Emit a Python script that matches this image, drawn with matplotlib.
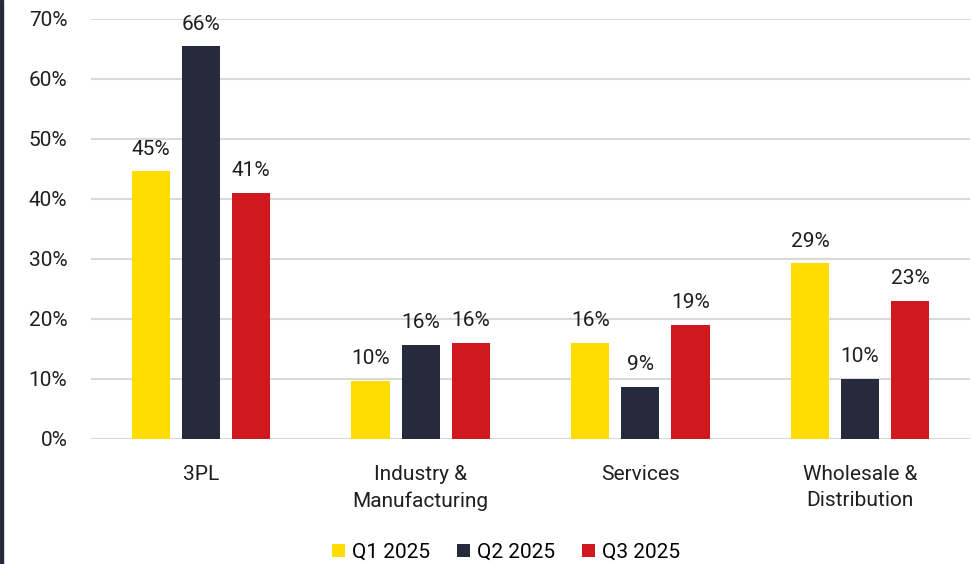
import numpy as np
import matplotlib.pyplot as plt
from matplotlib.patches import Rectangle

plt.rcParams['font.family'] = ['Roboto', 'DejaVu Sans']

categories = ['3PL', 'Industry &\nManufacturing', 'Services', 'Wholesale &\nDistribution']
series = ['Q1 2025', 'Q2 2025', 'Q3 2025']
q1 = [44.6, 9.7, 16.0, 29.3]
q2 = [65.5, 15.7, 8.7, 10.0]
q3 = [41.0, 16.0, 19.0, 23.0]
colors = ['#FFDD00', '#252A3D', '#D0191F']
yticks = [0, 10, 20, 30, 40, 50, 60, 70]

fs = 15

fig = plt.figure(figsize=(9.73, 5.64), dpi=100)
ax = fig.add_axes([91 / 973, 1 - 439 / 564, 879 / 973, 420 / 564])

# тёмная полоса слева
fig.patches.append(Rectangle((0, 0), 3 / 973, 1, transform=fig.transFigure,
                             color='#252A3D', zorder=0))

x = np.arange(len(categories))
width = 0.174
step = 0.228
for i, (vals, name, col) in enumerate(zip([q1, q2, q3], series, colors)):
    bars = ax.bar(x + (i - 1) * step, vals, width, color=col, label=name, zorder=3)
    for b, v in zip(bars, vals):
        ax.annotate(f'{v:.0f}%', (b.get_x() + b.get_width() / 2, v),
                    xytext=(0, 9), textcoords='offset points',
                    ha='center', va='bottom', fontsize=fs, color='#1f1f1f',
                    annotation_clip=False)

ax.set_xlim(-0.5, 3.5)
ax.set_ylim(0, 70)
ax.set_yticks(yticks)
ax.set_yticklabels([f'{t}%' for t in yticks])
ax.set_xticks(x)
ax.set_xticklabels(categories, linespacing=1.45)
ax.tick_params(axis='both', length=0, labelsize=fs, colors='#1f1f1f')
ax.tick_params(axis='y', pad=17)
ax.tick_params(axis='x', pad=19)
ax.grid(axis='y', color='#D9D9D9', linewidth=1.5, zorder=0)
ax.set_axisbelow(True)
for s in ax.spines.values():
    s.set_visible(False)

fig.legend(loc='center', bbox_to_anchor=(506 / 973, 1 - 552 / 564), ncol=3,
           frameon=False, fontsize=fs, handlelength=0.6, handleheight=0.6,
           handletextpad=0.35, columnspacing=1.3)

fig.savefig('out.png', dpi=100)
